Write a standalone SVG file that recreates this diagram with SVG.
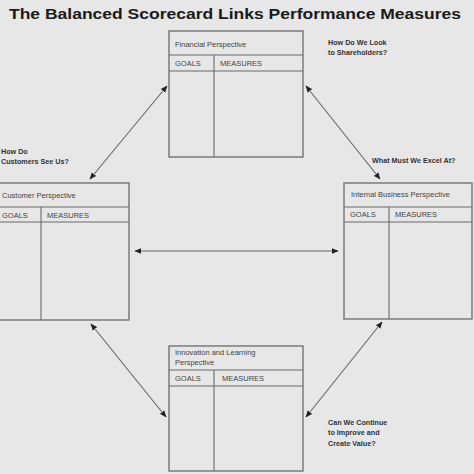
<svg xmlns="http://www.w3.org/2000/svg" width="474" height="474" viewBox="0 0 474 474">
<defs>
<style>
.bx{fill:none;stroke:#6a6a6a;stroke-width:1.3}
.ln{stroke:#6a6a6a;stroke-width:1.1}
.lb{font-family:"Liberation Sans",Arial,sans-serif;font-size:7.5px;fill:#444}
.q{font-family:"Liberation Sans",Arial,sans-serif;font-size:7.2px;font-weight:bold;fill:#333}
.t{font-family:"Liberation Sans",Arial,sans-serif;font-size:15.5px;font-weight:bold;fill:#1a1a1a}
.ar{stroke:#666;stroke-width:1.1;fill:none;marker-start:url(#ah);marker-end:url(#ah)}
</style>
<marker id="ah" viewBox="0 0 10 10" refX="9" refY="5" markerWidth="7" markerHeight="7" orient="auto-start-reverse" markerUnits="userSpaceOnUse">
<path d="M0,1 L10,5 L0,9 Z" fill="#222"/>
</marker>
</defs>
<rect width="474" height="474" fill="#e7e7e7"/>
<text class="t" x="9" y="19" textLength="452" lengthAdjust="spacingAndGlyphs">The Balanced Scorecard Links Performance Measures</text>

<g id="financial">
<rect class="bx" x="169" y="31" width="134" height="126"/>
<line class="ln" x1="169" y1="55" x2="303" y2="55"/>
<line class="ln" x1="169" y1="71" x2="303" y2="71"/>
<line class="ln" x1="214" y1="55" x2="214" y2="157"/>
<text class="lb" x="175" y="47">Financial Perspective</text>
<text class="lb" x="175" y="66">GOALS</text>
<text class="lb" x="220" y="66">MEASURES</text>
</g>

<g id="customer">
<rect class="bx" x="-5" y="183" width="134" height="137"/>
<line class="ln" x1="-5" y1="207" x2="129" y2="207"/>
<line class="ln" x1="-5" y1="222" x2="129" y2="222"/>
<line class="ln" x1="41" y1="207" x2="41" y2="320"/>
<text class="lb" x="2" y="198">Customer Perspective</text>
<text class="lb" x="2" y="218">GOALS</text>
<text class="lb" x="47" y="218">MEASURES</text>
</g>

<g id="internal">
<rect class="bx" x="344" y="183" width="128" height="136"/>
<line class="ln" x1="344" y1="207" x2="472" y2="207"/>
<line class="ln" x1="344" y1="222" x2="472" y2="222"/>
<line class="ln" x1="389" y1="207" x2="389" y2="319"/>
<text class="lb" x="351" y="197">Internal Business Perspective</text>
<text class="lb" x="350" y="217">GOALS</text>
<text class="lb" x="395" y="217">MEASURES</text>
</g>

<g id="innovation">
<rect class="bx" x="169" y="346" width="134" height="125"/>
<line class="ln" x1="169" y1="370" x2="303" y2="370"/>
<line class="ln" x1="169" y1="386" x2="303" y2="386"/>
<line class="ln" x1="214" y1="370" x2="214" y2="471"/>
<text class="lb" x="175" y="355">Innovation and Learning</text>
<text class="lb" x="175" y="365">Perspective</text>
<text class="lb" x="175" y="381">GOALS</text>
<text class="lb" x="222" y="381">MEASURES</text>
</g>

<g id="questions">
<text class="q" x="328" y="45">How Do We Look</text>
<text class="q" x="328" y="55">to Shareholders?</text>
<text class="q" x="1" y="154">How Do</text>
<text class="q" x="1" y="164">Customers See Us?</text>
<text class="q" x="372" y="163">What Must We Excel At?</text>
<text class="q" x="328" y="425">Can We Continue</text>
<text class="q" x="328" y="435">to Improve and</text>
<text class="q" x="328" y="446">Create Value?</text>
</g>

<g id="connectors">
<line class="ar" x1="90" y1="179" x2="167" y2="86"/>
<line class="ar" x1="306" y1="86" x2="380" y2="179"/>
<line class="ar" x1="135" y1="251" x2="338" y2="251"/>
<line class="ar" x1="91" y1="324" x2="166" y2="417"/>
<line class="ar" x1="382" y1="322" x2="306" y2="417"/>
</g>
</svg>
